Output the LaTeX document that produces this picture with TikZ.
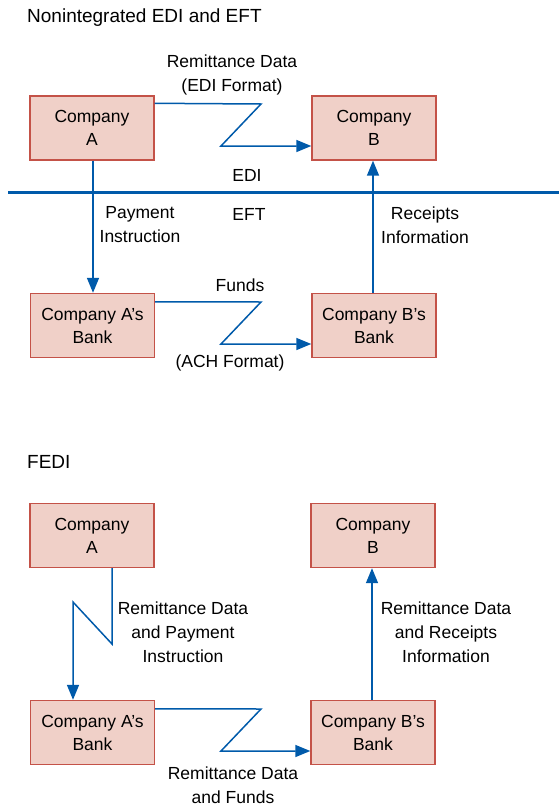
\documentclass[tikz,border=0pt]{standalone}
\usepackage{fontspec}
\setmainfont{Liberation Sans}
\usetikzlibrary{arrows.meta}
\definecolor{boxfill}{RGB}{240,208,200}
\definecolor{boxline}{RGB}{196,82,72}
\definecolor{flow}{RGB}{0,90,170}
\tikzset{
  entity/.style={draw=boxline, fill=boxfill, line width=1.4pt, minimum width=124pt, minimum height=64pt, inner sep=0pt, align=center, font=\fontsize{17.5}{23}\selectfont},
  lbl/.style={align=center, inner sep=0pt, font=\fontsize{17.5}{24}\selectfont},
  conn/.style={draw=flow, line width=1.5pt},
  arr/.style={conn, -{Triangle[length=15pt,width=12pt]}},
}
\begin{document}
\begin{tikzpicture}[x=1pt,y=-1pt]
\useasboundingbox (0,0) rectangle (559,806);
% top section
\node[lbl, anchor=west, font=\fontsize{19}{22}\selectfont] (t1) at (27,18) {Nonintegrated EDI and EFT};
\node[entity] (A) at (92,128) {Company\\A};
\node[entity] (B) at (374,128) {Company\\B};
\node[entity] (Ab) at (92.5,325.5) {Company A’s\\Bank};
\node[entity] (Bb) at (374,325.5) {Company B’s\\Bank};
\draw[flow, line width=3pt] (8,192) -- (559,192);
\node[lbl] (edi) at (247,175) {EDI};
\node[lbl] (eft) at (249,214) {EFT};
\node[lbl] (l1) at (232,75) {Remittance Data\\(EDI Format)};
\node[lbl] (l2) at (140,225) {Payment\\Instruction};
\node[lbl] (l3) at (425,225) {Receipts\\Information};
\node[lbl] (l4) at (240,285) {Funds};
\node[lbl] (l5) at (230,363) {(ACH Format)};
\coordinate (z1) at (261,104);
\coordinate (z2) at (221,146);
\draw[arr] ([yshift=-8pt]A.north east) -- (z1) -- (z2) -- (B.west |- z2);
\draw[arr] (A.south -| 93,0) -- (Ab.north -| 93,0);
\draw[arr] (Bb.north -| 373,0) -- (B.south -| 373,0);
\coordinate (z3) at (261,302);
\coordinate (z4) at (221,344);
\draw[arr] ([yshift=-9pt]Ab.north east) -- (z3) -- (z4) -- (Bb.west |- z4);
% bottom section
\node[lbl, anchor=west, font=\fontsize{19}{22}\selectfont] (t2) at (27,462) {FEDI};
\node[entity] (A2) at (92,535.5) {Company\\A};
\node[entity] (B2) at (373,535.5) {Company\\B};
\node[entity] (Ab2) at (92.5,732.5) {Company A’s\\Bank};
\node[entity] (Bb2) at (373,732.5) {Company B’s\\Bank};
\node[lbl] (m1) at (183,632) {Remittance Data\\and Payment\\Instruction};
\node[lbl] (m2) at (446,632) {Remittance Data\\and Receipts\\Information};
\node[lbl] (m3) at (233,785) {Remittance Data\\and Funds};
\coordinate (n1) at (112,644);
\coordinate (n2) at (73,602);
\draw[arr] (A2.south -| n1) -- (n1) -- (n2) -- (Ab2.north -| n2);
\draw[arr] (Bb2.north -| 372,0) -- (B2.south -| 372,0);
\coordinate (z5) at (261,709);
\coordinate (z6) at (221,751);
\draw[arr] ([yshift=-9pt]Ab2.north east) -- (z5) -- (z6) -- (Bb2.west |- z6);
\end{tikzpicture}
\end{document}
